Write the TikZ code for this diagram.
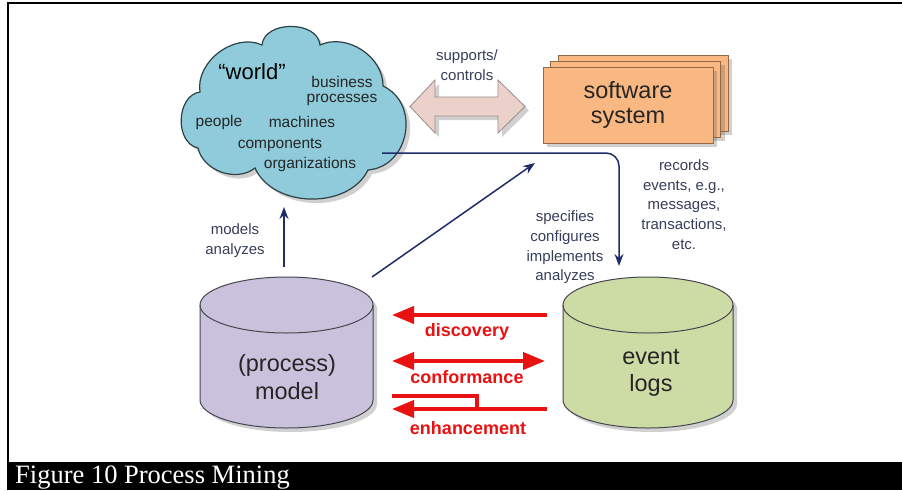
\documentclass[tikz,border=0pt]{standalone}
\usepackage{fontspec}
\setmainfont{Liberation Sans}
\newfontfamily\capfont{Liberation Serif}
\usetikzlibrary{arrows.meta,shadows}
\definecolor{cloudfill}{RGB}{143,203,218}
\definecolor{cloudline}{RGB}{45,65,70}
\definecolor{pinkfill}{RGB}{236,208,202}
\definecolor{pinkline}{RGB}{150,140,140}
\definecolor{swfill}{RGB}{249,183,130}
\definecolor{swline}{RGB}{150,105,70}
\definecolor{modelfill}{RGB}{202,194,220}
\definecolor{logfill}{RGB}{205,219,165}
\definecolor{cylline}{RGB}{70,70,80}
\definecolor{navy}{RGB}{30,45,105}
\definecolor{labeltext}{RGB}{55,62,90}
\definecolor{redarrow}{RGB}{232,18,18}
\tikzset{
 shad/.style={drop shadow={shadow xshift=4pt,shadow yshift=-4pt,opacity=0.3,fill=black!60}},
 navyarrow/.style={draw=navy,line width=1.5pt,-{Stealth[length=12pt,width=9pt]}},
 redarr/.style={draw=redarrow,line width=4pt,-{Triangle[length=22pt,width=17pt]}},
 redarrtwo/.style={draw=redarrow,line width=4pt,{Triangle[length=22pt,width=17pt]}-{Triangle[length=22pt,width=17pt]}},
 redline/.style={draw=redarrow,line width=4pt},
 lbl/.style={text=labeltext,font=\fontsize{15}{19.7}\selectfont,align=center,inner sep=0pt},
 cloudtxt/.style={text=black!85,font=\fontsize{15.5}{18}\selectfont,inner sep=0pt},
 bigtxt/.style={text=black!85,font=\fontsize{23.5}{27}\selectfont,align=center,inner sep=0pt},
 redtxt/.style={text=redarrow,font=\bfseries\fontsize{18}{20}\selectfont,inner sep=0pt},
 swbox/.style={fill=swfill,draw=swline,line width=1pt},
 cylbody/.style={draw=cylline,line width=1pt},
}
\begin{document}
\begin{tikzpicture}[x=1pt,y=-1pt]
\useasboundingbox (0,0) rectangle (902,490);
\fill[white] (0,0) rectangle (902,490);
% frame and caption bar
\draw[line width=2pt,line join=miter] (8,462) -- (8,3.3) -- (902,3.3);
\fill[black] (7,462) rectangle (902,490);
\node[anchor=base west,text=white,inner sep=0pt,font=\capfont\fontsize{26.5}{27}\selectfont] (cap) at (15,483.5) {Figure 10 Process Mining};

% cloud
\path[fill=cloudfill,draw=cloudline,line width=1.2pt,shad]
 (200,92) to[bend left=62] (262,45)
 to[bend left=85,looseness=1.1] (320,45)
 to[bend left=58] (383,86)
 to[bend left=75,looseness=1.25] (368,170)
 to[bend left=65] (255,168)
 to[bend left=58] (198,148)
 to[bend left=80,looseness=1.1] (200,92) -- cycle;
\node[text=black,font=\fontsize{22}{24}\selectfont,inner sep=0pt] (world) at (252,72) {“world”};
\node[cloudtxt] (business) at (342,82) {business};
\node[cloudtxt] (processes) at (342,100) {processes};
\node[cloudtxt] (people) at (219,122) {people};
\node[cloudtxt] (machines) at (302,122) {machines};
\node[cloudtxt] (components) at (280,145) {components};
\node[cloudtxt] (organizations) at (310,164) {organizations};

% pink double arrow
\path[fill=pinkfill,draw=pinkline,line width=0.8pt,shad]
 (410,106.5) -- (435,80) -- (435,97) -- (498,97) -- (498,80) -- (525,106.5)
 -- (498,133) -- (498,116) -- (435,116) -- (435,133) -- cycle;
\node[lbl] (supports) at (467,65) {supports/\\controls};

% software system
\path[swbox,shad] (558,55) rectangle (728,131);
\path[swbox,shad] (550.5,61) rectangle (720.5,137);
\path[swbox,shad] (543,67) rectangle (713,143);
\node[bigtxt,font=\fontsize{23.5}{25}\selectfont] (software) at (628,105) {software\\system};

% model cylinder
\path[cylbody,fill=modelfill,shad] (200,305) -- (200,400) arc[start angle=180,end angle=0,x radius=86.5,y radius=28]
 -- (373,305) arc[start angle=0,end angle=-180,x radius=86.5,y radius=28] -- cycle;
\draw[cylbody] (373,305) arc[start angle=0,end angle=180,x radius=86.5,y radius=28];
\node[bigtxt,font=\fontsize{23.5}{28}\selectfont] (model) at (287,377) {(process)\\model};

% event logs cylinder
\path[cylbody,fill=logfill,shad] (563,305) -- (563,400) arc[start angle=180,end angle=0,x radius=85,y radius=28]
 -- (733,305) arc[start angle=0,end angle=-180,x radius=85,y radius=28] -- cycle;
\draw[cylbody] (733,305) arc[start angle=0,end angle=180,x radius=85,y radius=28];
\node[bigtxt] (logs) at (651,373) {event\\logs};

% navy connectors
\coordinate (cloudR) at (382,153);
\coordinate (logsIn) at (619,266);
\coordinate (modelTop) at (284,267);
\coordinate (cloudB) at (284,207);
\coordinate (modelTR) at (372,277);
\coordinate (swIn) at (535,163);
\draw[navyarrow,rounded corners=13pt] (cloudR) -| (logsIn);
\draw[navyarrow] (modelTop) -- (cloudB);
\draw[navyarrow] (modelTR) -- (swIn);
\node[lbl] (records) at (684,204.5) {records\\events, e.g.,\\messages,\\transactions,\\etc.};
\node[lbl] (specifies) at (565,247.5) {specifies\\configures\\implements\\analyzes};
\node[lbl] (models) at (235,240.5) {models\\analyzes};

% red arrows
\coordinate (dR) at (547,315);
\coordinate (dL) at (392,315);
\coordinate (cR) at (545,361);
\coordinate (cL) at (392,361);
\coordinate (eA) at (392,396);
\coordinate (eB) at (477,396);
\coordinate (eC) at (477,409);
\coordinate (eR) at (547,409);
\coordinate (eL) at (392,409);
\draw[redarr] (dR) -- (dL);
\draw[redarrtwo] (cL) -- (cR);
\draw[redline] (eA) -- (eB) -- (eC);
\draw[redarr] (eR) -- (eL);
\node[redtxt] (discovery) at (467,332) {discovery};
\node[redtxt] (conformance) at (467,377) {conformance};
\node[redtxt] (enhancement) at (468,428) {enhancement};
\end{tikzpicture}
\end{document}
